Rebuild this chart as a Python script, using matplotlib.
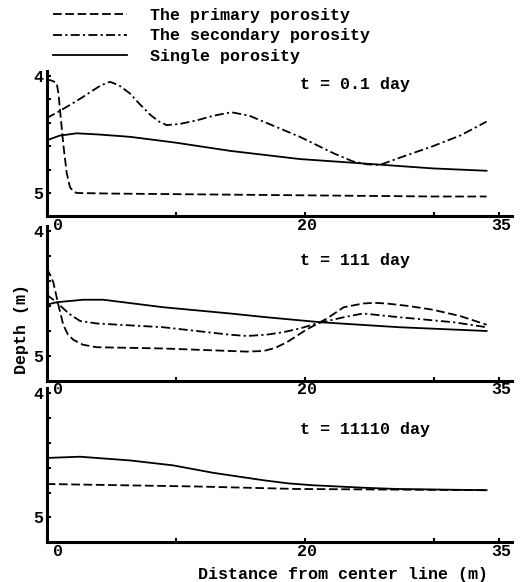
import matplotlib
matplotlib.use("Agg")
import matplotlib.pyplot as plt
from matplotlib.ticker import FixedLocator, FixedFormatter
from matplotlib.transforms import ScaledTranslation

plt.rcParams['font.family'] = ['Liberation Mono', 'DejaVu Sans Mono']
plt.rcParams['font.weight'] = 'bold'
plt.rcParams['font.size'] = 12

# t = 0.1 day
p1_x_pri = [0, 0.41, 0.77, 0.91, 1.03, 1.28, 1.55, 1.80, 2.05, 2.32, 5, 10, 15, 20, 25, 30, 34.06]
p1_y_pri = [4.03, 4.04, 4.06, 4.15, 4.29, 4.58, 4.83, 4.95, 4.985, 5.0, 5.005, 5.01, 5.015, 5.02, 5.025, 5.03, 5.03]
p1_x_sec = [0, 1.0, 2.06, 2.8, 3.48, 4.2, 4.90, 5.6, 6.45, 7.2, 8.0, 8.7, 9.29, 10.3, 11.6, 12.9, 14.3,
            15.7, 17.0, 18.3, 19.6, 20.9, 22.2, 23.7, 24.8, 25.8, 27.3, 29.9, 32.0, 34.06]
p1_y_sec = [4.36, 4.30, 4.23, 4.18, 4.13, 4.08, 4.05, 4.08, 4.15, 4.24, 4.33, 4.39, 4.42, 4.41, 4.38, 4.34, 4.31,
            4.34, 4.40, 4.46, 4.52, 4.59, 4.66, 4.73, 4.755, 4.76, 4.70, 4.60, 4.51, 4.39]
p1_x_sgl = [0, 1.0, 2.32, 4.0, 6.45, 10.0, 14.2, 19.6, 24.8, 29.9, 34.06]
p1_y_sgl = [4.55, 4.51, 4.49, 4.50, 4.52, 4.57, 4.64, 4.71, 4.75, 4.79, 4.81]

# t = 111 day
p2_x_pri = [0, 0.26, 0.51, 0.90, 1.28, 1.65, 2.06, 2.8, 3.87, 9.02, 14.2, 15.5, 16.8, 17.7, 18.6, 20.1, 21.7,
            23.0, 24.5, 25.4, 26.3, 28.0, 29.9, 32.0, 34.06]
p2_y_pri = [4.30, 4.35, 4.41, 4.59, 4.75, 4.83, 4.87, 4.91, 4.93, 4.94, 4.96, 4.965, 4.96, 4.935, 4.89, 4.79, 4.70,
            4.61, 4.58, 4.575, 4.58, 4.60, 4.63, 4.68, 4.75]
p2_x_sec = [0, 0.77, 1.7, 2.58, 3.87, 9.02, 14.2, 15.5, 17.0, 18.3, 19.6, 20.9, 23.0, 24.5, 27.3, 31.5, 34.06]
p2_y_sec = [4.51, 4.57, 4.66, 4.72, 4.74, 4.77, 4.83, 4.84, 4.83, 4.81, 4.78, 4.74, 4.69, 4.66, 4.69, 4.73, 4.77]
p2_x_sgl = [0, 0.77, 2.83, 4.38, 9.02, 14.2, 17.0, 21.2, 27.3, 34.06]
p2_y_sgl = [4.59, 4.57, 4.55, 4.55, 4.61, 4.66, 4.69, 4.73, 4.77, 4.80]

# t = 11110 day
p3_x_pri = [0, 11.6, 19.35, 34.06]
p3_y_pri = [4.73, 4.75, 4.77, 4.78]
p3_x_sgl = [0, 2.58, 6.45, 9.80, 12.9, 16.8, 18.7, 20.6, 24.5, 27.1, 34.06]
p3_y_sgl = [4.52, 4.51, 4.54, 4.58, 4.64, 4.70, 4.725, 4.74, 4.76, 4.77, 4.78]

titles = ["t = 0.1 day", "t = 111 day", "t = 11110 day"]
title_y = [4.07, 4.24, 4.29]
labels = ["The primary porosity", "The secondary porosity", "Single porosity"]

fig = plt.figure(figsize=(5.23, 5.82), dpi=100)
positions = [
    [0.0893, 0.6282, 0.889, 0.2493],
    [0.0893, 0.3454, 0.889, 0.2663],
    [0.0893, 0.0682, 0.889, 0.2643],
]
axes = [fig.add_axes(p) for p in positions]

pri_style = dict(color='black', lw=1.3, linestyle=(0, (4.8, 2.0)))
sec_style = dict(color='black', lw=1.3, linestyle=(0, (5.0, 1.8, 1.2, 1.8)))
sgl_style = dict(color='black', lw=1.3, linestyle='-')

ax1, ax2, ax3 = axes
h1, = ax1.plot(p1_x_pri, p1_y_pri, **pri_style)
h2, = ax1.plot(p1_x_sec, p1_y_sec, **sec_style)
h3, = ax1.plot(p1_x_sgl, p1_y_sgl, **sgl_style)
ax2.plot(p2_x_pri, p2_y_pri, **pri_style)
ax2.plot(p2_x_sec, p2_y_sec, **sec_style)
ax2.plot(p2_x_sgl, p2_y_sgl, **sgl_style)
ax3.plot(p3_x_pri, p3_y_pri, **pri_style)
ax3.plot(p3_x_sgl, p3_y_sgl, **sgl_style)

for ax, title, ty in zip(axes, titles, title_y):
    ax.patch.set_alpha(0)
    ax.set_xlim(0, 36)
    ax.set_ylim(5.2, 3.96)
    for side in ['top', 'right']:
        ax.spines[side].set_visible(False)
    for side in ['left', 'bottom']:
        ax.spines[side].set_linewidth(2.2)
    ax.yaxis.set_major_locator(FixedLocator([4.0, 4.2, 4.4, 4.6, 4.8, 5.0]))
    ax.yaxis.set_major_formatter(FixedFormatter(['4', '', '', '', '', '5']))
    ax.xaxis.set_major_locator(FixedLocator([0, 20, 35]))
    ax.xaxis.set_major_formatter(FixedFormatter(['0', '20', '35']))
    ax.xaxis.set_minor_locator(FixedLocator([10, 30]))
    ax.tick_params(axis='y', direction='in', length=3, width=1.5, pad=2.5, labelsize=12)
    ax.tick_params(axis='x', which='both', direction='in', length=3, width=1.5, pad=1, labelsize=12)
    offsets = [11, 2, 3]
    for lbl, dx in zip(ax.get_xticklabels(), offsets):
        lbl.set_transform(lbl.get_transform() + ScaledTranslation(dx / 100, 0, fig.dpi_scale_trans))
    ax.text(19.6, ty, title, va='center', ha='left', fontsize=12)

fig.legend([h1, h2, h3], labels, loc='upper left', bbox_to_anchor=(0.1013, 0.986),
           frameon=False, borderpad=0, borderaxespad=0, handlelength=4.44,
           handletextpad=1.38, labelspacing=0.32, fontsize=12)

fig.text(21.7 / 523, 1 - 328.5 / 582, 'Depth (m)', rotation=90, ha='center', va='center', fontsize=12)
fig.text(342.5 / 523, 1 - 574 / 582, 'Distance from center line (m)', ha='center', va='center', fontsize=12)

fig.savefig('out.png', dpi=100)
